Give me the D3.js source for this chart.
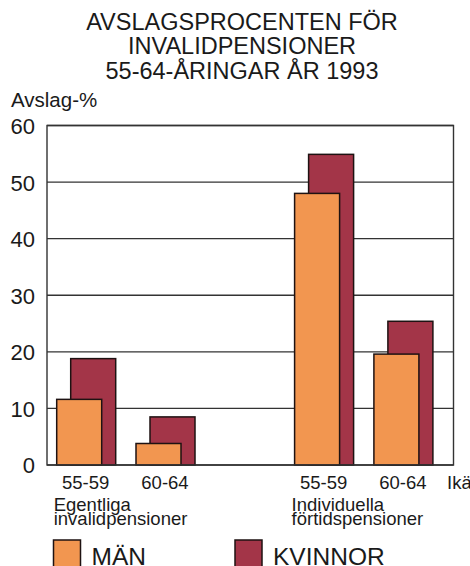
<!DOCTYPE html>
<html>
<head>
<meta charset="utf-8">
<script src="https://cdn.jsdelivr.net/npm/d3@7"></script>
<style>
  html, body { margin: 0; padding: 0; background: #fff; }
  svg { display: block; }
  text { font-family: "Liberation Sans", Arial, Helvetica, sans-serif; fill: #1a1a1a; }
</style>
</head>
<body>
<svg id="chart" width="470" height="566"></svg>
<script>
// ---- data ----
const titleLines = ["AVSLAGSPROCENTEN FÖR", "INVALIDPENSIONER", "55-64-ÅRINGAR ÅR 1993"];
const categories = ["E55", "E60", "gap", "I55", "I60"];
const ageLabels = ["55-59", "60-64", "", "55-59", "60-64"];
const men   = [11.6, 3.8, null, 48.0, 19.6];
const women = [18.8, 8.5, null, 54.9, 25.4];
const yTicks = [0, 10, 20, 30, 40, 50, 60];
const seriesNames = ["MÄN", "KVINNOR"];
const seriesColors = ["#f29650", "#a33548"];
const groupLabels = [["Egentliga", "invalidpensioner"], ["Individuella", "förtidspensioner"]];
const groupLabelCats = ["E55", "I55"];

// ---- layout ----
const svg = d3.select("#chart");
const plotL = 47, plotR = 453.5, plotT = 125.5, plotB = 465;

const x = d3.scaleBand().domain(categories).range([56.7, 453.2]).padding(0);
const y = d3.scaleLinear().domain([0, 60]).range([plotB, plotT]);
const barW = 45, offset = 14;

// title
svg.append("g").selectAll("text").data(titleLines).join("text")
  .attr("x", 242).attr("y", (d, i) => 30 + i * 24.3)
  .attr("text-anchor", "middle").attr("font-size", 23.5).text(d => d);

svg.append("text").attr("x", 11).attr("y", 106.5).attr("font-size", 20.5).text("Avslag-%");

// gridlines
svg.append("g").selectAll("line").data(yTicks.filter(t => t > 0)).join("line")
  .attr("x1", plotL).attr("x2", plotR)
  .attr("y1", d => y(d)).attr("y2", d => y(d))
  .attr("stroke", "#333").attr("stroke-width", 1.3);

// frame
svg.append("rect").attr("x", plotL).attr("y", plotT)
  .attr("width", plotR - plotL).attr("height", plotB - plotT)
  .attr("fill", "none").attr("stroke", "#333").attr("stroke-width", 1.4);

// y axis labels
const yAxis = d3.axisLeft(y).tickValues(yTicks).tickSize(0).tickPadding(12);
const ya = svg.append("g").attr("transform", `translate(${plotL},0)`).call(yAxis);
ya.select(".domain").remove();
ya.selectAll("text").attr("font-size", 22).attr("font-family", "Liberation Sans, Arial, sans-serif")
  .attr("fill", "#1a1a1a").attr("dy", "0.36em");

// bars: women behind, men in front
const idx = d3.range(categories.length).filter(i => men[i] != null);
svg.append("g").selectAll("rect").data(idx).join("rect")
  .attr("x", i => x(categories[i]) + offset).attr("width", barW)
  .attr("y", i => y(women[i])).attr("height", i => y(0) - y(women[i]))
  .attr("fill", seriesColors[1]).attr("stroke", "#1e1212").attr("stroke-width", 1.5);
svg.append("g").selectAll("rect").data(idx).join("rect")
  .attr("x", i => x(categories[i])).attr("width", barW)
  .attr("y", i => y(men[i])).attr("height", i => y(0) - y(men[i]))
  .attr("fill", seriesColors[0]).attr("stroke", "#1e1212").attr("stroke-width", 1.5);

// baseline redraw
svg.append("line").attr("x1", plotL).attr("x2", plotR).attr("y1", plotB).attr("y2", plotB)
  .attr("stroke", "#333").attr("stroke-width", 1.4);

// x axis labels
svg.append("g").selectAll("text").data(idx).join("text")
  .attr("x", i => x(categories[i]) + (barW + offset) / 2 - 0.5)
  .attr("y", 488.5).attr("text-anchor", "middle").attr("font-size", 18.5)
  .text(i => ageLabels[i]);
svg.append("text").attr("x", 447).attr("y", 488.5).attr("font-size", 18.5).text("Ikä");

// group labels
groupLabels.forEach((lines, g) => {
  const t = svg.append("text").attr("font-size", 18.5);
  lines.forEach((l, j) => {
    t.append("tspan").attr("x", x(groupLabelCats[g]) - 3)
      .attr("y", 511 + j * 14).text(l);
  });
});

// legend
const legX = [53.5, 235];
const legend = svg.append("g").selectAll("g").data(seriesNames).join("g")
  .attr("transform", (d, i) => `translate(${legX[i]},540)`);
legend.append("rect").attr("width", 27).attr("height", 40)
  .attr("fill", (d, i) => seriesColors[i]).attr("stroke", "#1e1212").attr("stroke-width", 1.5);
legend.append("text").attr("x", 38).attr("y", 25).attr("font-size", 24.5).text(d => d);
</script>
</body>
</html>
